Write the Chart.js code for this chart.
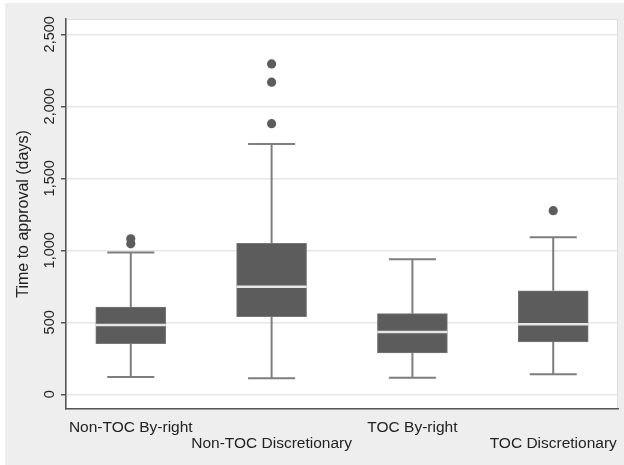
<!DOCTYPE html>
<html>
<head>
<meta charset="utf-8">
<script src="https://cdn.jsdelivr.net/npm/chart.js@4.4.0/dist/chart.umd.min.js"></script>
<style>
  html, body { margin: 0; padding: 0; background: #fff; }
  #wrap { position: absolute; left: 5px; top: 3px; width: 619px; height: 462px; }
</style>
</head>
<body>
<div id="wrap"><canvas id="boxChart"></canvas></div>
<script>
// box plot values (days)
const categories = ['Non-TOC By-right', 'Non-TOC Discretionary', 'TOC By-right', 'TOC Discretionary'];
const lowWhisker = [120, 111, 115, 139];
const q1 = [351, 539, 287, 363];
const median = [481, 747, 433, 486];
const q3 = [606, 1049, 560, 719];
const highWhisker = [985, 1738, 938, 1090];
const outliers = [[1045, 1080], [1879, 2167, 2294], [], [1275]];
const yTicks = [0, 500, 1000, 1500, 2000, 2500];

const capHalf = 0.167;
const boxHalf = 0.249;
const boxColor = '#5c5c5c';
const whiskerColor = '#7e7e7e';
const font = 'Liberation Sans';

const boxData = [], whiskerData = [], capData = [], medianData = [], outlierData = [];
categories.forEach((c, i) => {
    const x = i + 1;
    boxData.push({x: x, y: [q1[i], q3[i]]});
    whiskerData.push({x: x, y: q3[i]}, {x: x, y: highWhisker[i]}, {x: x, y: null},
                     {x: x, y: q1[i]}, {x: x, y: lowWhisker[i]}, {x: x, y: null});
    capData.push({x: x - capHalf, y: highWhisker[i]}, {x: x + capHalf, y: highWhisker[i]}, {x: x, y: null},
                 {x: x - capHalf, y: lowWhisker[i]}, {x: x + capHalf, y: lowWhisker[i]}, {x: x, y: null});
    medianData.push({x: x - boxHalf, y: median[i]}, {x: x + boxHalf, y: median[i]}, {x: x, y: null});
    outliers[i].forEach(v => outlierData.push({x: x, y: v}));
});

const plotBackground = {
    id: 'plotBackground',
    beforeDraw(chart) {
        const {ctx, chartArea: a, width, height} = chart;
        ctx.save();
        ctx.fillStyle = '#eeeeee';
        ctx.fillRect(0, 0, width, height);
        ctx.fillStyle = '#ffffff';
        ctx.fillRect(a.left, a.top, a.right - a.left, a.bottom - a.top);
        ctx.strokeStyle = '#dedede';
        ctx.lineWidth = 1;
        ctx.strokeRect(a.left + 0.5, a.top + 0.5, a.right - a.left - 1, a.bottom - a.top - 1);
        ctx.restore();
    }
};

const lineStyle = (color, width) => ({
    borderColor: color, borderWidth: width, pointRadius: 0, spanGaps: false, tension: 0, fill: false
});

new Chart(document.getElementById('boxChart'), {
    type: 'bar',
    plugins: [plotBackground],
    data: {
        datasets: [
            Object.assign({type: 'line', data: whiskerData, order: 3}, lineStyle(whiskerColor, 2)),
            Object.assign({type: 'line', data: capData, order: 3}, lineStyle(whiskerColor, 2)),
            {
                type: 'bar', data: boxData, order: 2,
                backgroundColor: boxColor, borderColor: '#777777', borderWidth: 1,
                borderSkipped: false, barThickness: 70, grouped: false
            },
            Object.assign({type: 'line', data: medianData, order: 1}, lineStyle('#e6e6e6', 2.5)),
            {
                type: 'scatter', data: outlierData, order: 0,
                pointRadius: 4.6, pointBackgroundColor: boxColor, pointBorderWidth: 0
            }
        ]
    },
    options: {
        responsive: true,
        maintainAspectRatio: false,
        animation: false,
        layout: {padding: {top: 16, right: 6, left: 0, bottom: 0}},
        plugins: {legend: {display: false}, tooltip: {enabled: false}},
        scales: {
            x: {
                type: 'linear', min: 0.54, max: 4.46, offset: false,
                grid: {display: false},
                border: {color: '#555555', width: 1.5},
                afterBuildTicks: axis => { axis.ticks = categories.map((c, i) => ({value: i + 1})); },
                afterFit: axis => { axis.height = 56; },
                ticks: {
                    autoSkip: false, maxRotation: 0, minRotation: 0, padding: 3,
                    color: '#222222', font: {family: font, size: 15.5, lineHeight: 1},
                    callback: (v, i) => i % 2 === 0 ? categories[i] : ['', categories[i]]
                }
            },
            y: {
                type: 'linear', min: -102, max: 2606,
                afterBuildTicks: axis => { axis.ticks = yTicks.map(v => ({value: v})); },
                afterFit: axis => { axis.width = 61; },
                grid: {color: '#e6e6e6', lineWidth: 1.5, tickColor: '#555555', tickLength: 5, tickWidth: 1.5},
                border: {color: '#555555', width: 1.5},
                ticks: {
                    minRotation: 90, maxRotation: 90, crossAlign: 'center', padding: -7,
                    color: '#222222', font: {family: font, size: 14.5},
                    callback: v => v.toLocaleString('en-US')
                },
                title: {
                    display: true, text: 'Time to approval (days)', color: '#222222',
                    font: {family: font, size: 16}, padding: {top: 9, bottom: 0}
                }
            }
        }
    }
});
</script>
</body>
</html>
